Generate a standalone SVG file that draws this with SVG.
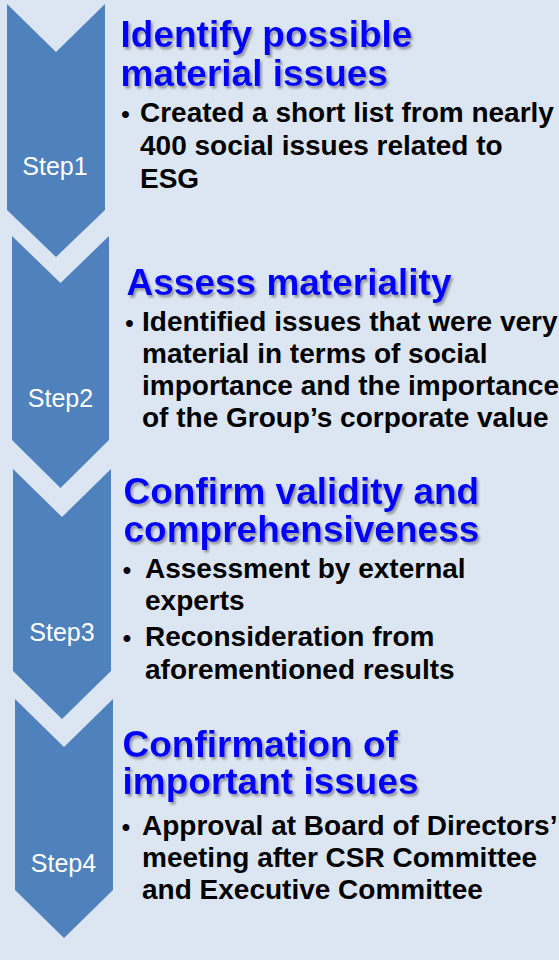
<svg xmlns="http://www.w3.org/2000/svg" width="559" height="960" viewBox="0 0 559 960">
  <defs>
    <filter id="titleShadow" x="-5%" y="-20%" width="115%" height="150%">
      <feDropShadow dx="2" dy="2.5" stdDeviation="1.2" flood-color="#7f7f7f" flood-opacity="0.75"/>
    </filter>
  </defs>
  <style>
    .chev { fill: #4F81BD; }
    .step { font-family: "Liberation Sans", Arial, sans-serif; font-size: 25px; fill: #ffffff; text-anchor: middle; }
    .title { font-family: "Liberation Sans", Arial, sans-serif; font-size: 37px; font-weight: bold; fill: #0000FF; filter: url(#titleShadow); }
    .body { font-family: "Liberation Sans", Arial, sans-serif; font-size: 28px; font-weight: bold; fill: #000000; }
    .bullet { font-family: "Liberation Sans", Arial, sans-serif; font-size: 24px; font-weight: bold; fill: #000000; text-anchor: middle; }
  </style>

  <rect x="0" y="0" width="559" height="960" fill="#DCE6F2"/>

  <!-- Step 1 -->
  <g id="step1">
    <path class="chev" d="M7,4 L56,52 L105,4 L105,210 L56,257 L7,210 Z"/>
    <text class="step" x="55" y="175">Step1</text>
    <text class="title" x="120.5" y="47">Identify possible</text>
    <text class="title" x="120.5" y="86">material issues</text>
    <text class="bullet" x="125.5" y="122">•</text>
    <text class="body" x="140" y="122">Created a short list from nearly</text>
    <text class="body" x="140" y="154.5">400 social issues related to</text>
    <text class="body" x="140" y="187.5">ESG</text>
  </g>

  <!-- Step 2 -->
  <g id="step2">
    <path class="chev" d="M12,236 L60.5,283 L109,236 L109,440 L60.5,488 L12,440 Z"/>
    <text class="step" x="60.5" y="407">Step2</text>
    <text class="title" x="126.5" y="295">Assess materiality</text>
    <text class="bullet" x="129.5" y="331">•</text>
    <text class="body" x="142" y="331">Identified issues that were very</text>
    <text class="body" x="142" y="363">material in terms of social</text>
    <text class="body" x="142" y="395">importance and the importance</text>
    <text class="body" x="142" y="427">of the Group’s corporate value</text>
  </g>

  <!-- Step 3 -->
  <g id="step3">
    <path class="chev" d="M13,469 L62,517 L111,469 L111,671 L62,719 L13,671 Z"/>
    <text class="step" x="62" y="641">Step3</text>
    <text class="title" x="123.5" y="504">Confirm validity and</text>
    <text class="title" x="123.5" y="542">comprehensiveness</text>
    <text class="bullet" x="127" y="577.5">•</text>
    <text class="body" x="145" y="577.5">Assessment by external</text>
    <text class="body" x="145" y="610">experts</text>
    <text class="bullet" x="127" y="645.5">•</text>
    <text class="body" x="145" y="645.5">Reconsideration from</text>
    <text class="body" x="145" y="678.5">aforementioned results</text>
  </g>

  <!-- Step 4 -->
  <g id="step4">
    <path class="chev" d="M15,699 L64,747 L113,699 L113,890 L64,938 L15,890 Z"/>
    <text class="step" x="63.5" y="872">Step4</text>
    <text class="title" x="122.5" y="757">Confirmation of</text>
    <text class="title" x="122.5" y="794">important issues</text>
    <text class="bullet" x="126" y="835">•</text>
    <text class="body" x="142" y="835">Approval at Board of Directors’</text>
    <text class="body" x="142" y="867">meeting after CSR Committee</text>
    <text class="body" x="142" y="899">and Executive Committee</text>
  </g>

  <!-- the chevrons chain directly into one another; no separate connector lines -->
  <g id="connectors"></g>
</svg>
